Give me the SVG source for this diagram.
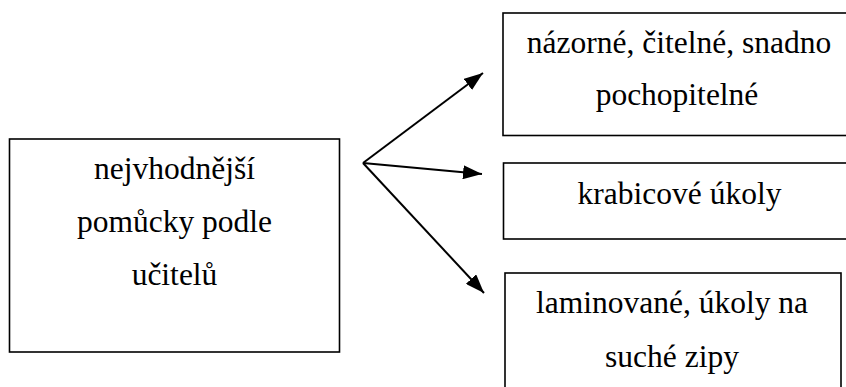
<svg xmlns="http://www.w3.org/2000/svg" width="846" height="387" viewBox="0 0 846 387">
  <defs>
    <style>
      .box { fill: #ffffff; stroke: #000000; stroke-width: 1.6; }
      .label { font-family: "Liberation Serif", "Times New Roman", serif; font-size: 31.5px; fill: #000000; text-anchor: middle; }
      .edge { stroke: #000000; stroke-width: 2; fill: none; marker-end: url(#arrow); }
    </style>
    <marker id="arrow" markerWidth="19" markerHeight="14" refX="19" refY="7" orient="auto" markerUnits="userSpaceOnUse">
      <path d="M0,0 L19,7 L0,14 Z" fill="#000000"/>
    </marker>
  </defs>
  <rect width="846" height="387" fill="#ffffff"/>

  <g id="node-main">
    <rect class="box" x="9.5" y="139" width="330" height="213"/>
    <text class="label" x="174.5" y="179" font-family="Liberation Serif">nejvhodnější</text>
    <text class="label" x="174.5" y="232" font-family="Liberation Serif">pomůcky podle</text>
    <text class="label" x="174.5" y="285" font-family="Liberation Serif">učitelů</text>
  </g>

  <g id="node-clear">
    <rect class="box" x="503" y="13" width="346" height="122.5"/>
    <text class="label" x="679" y="53" font-family="Liberation Serif">názorné, čitelné, snadno</text>
    <text class="label" x="677" y="105" font-family="Liberation Serif">pochopitelné</text>
  </g>

  <g id="node-box-tasks">
    <rect class="box" x="503.5" y="163" width="346" height="76"/>
    <text class="label" x="679.5" y="204" font-family="Liberation Serif">krabicové úkoly</text>
  </g>

  <g id="node-laminated">
    <rect class="box" x="505" y="273" width="336" height="130"/>
    <text class="label" x="672" y="313" font-family="Liberation Serif">laminované, úkoly na</text>
    <text class="label" x="672" y="367" font-family="Liberation Serif">suché zipy</text>
  </g>

  <g id="connectors">
    <line class="edge" x1="363" y1="163" x2="483" y2="73"/>
    <line class="edge" x1="363" y1="163" x2="482" y2="174"/>
    <line class="edge" x1="363" y1="163" x2="484" y2="293"/>
  </g>
</svg>
